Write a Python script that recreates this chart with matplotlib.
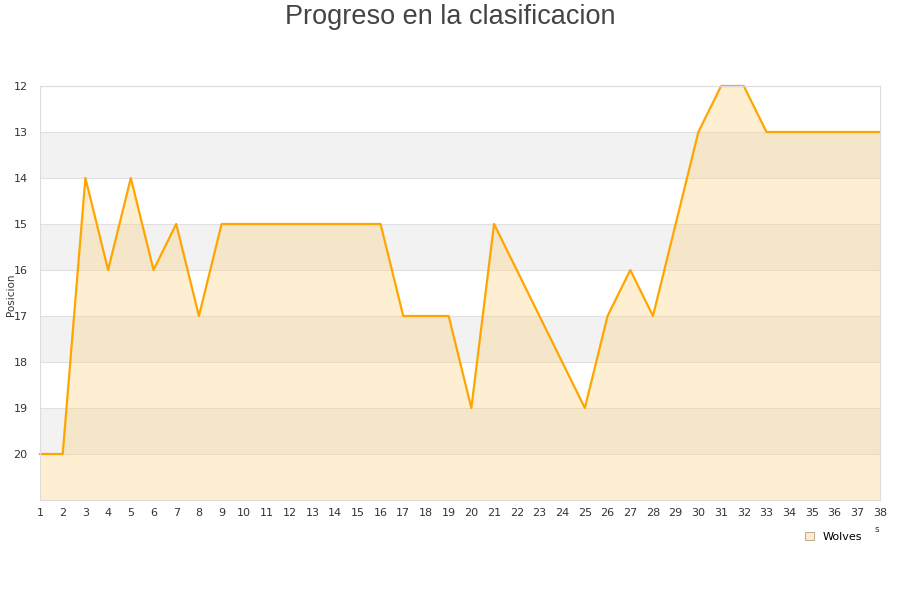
import matplotlib.pyplot as plt
from matplotlib.patches import Patch

# jornadas y posicion del equipo
jornadas = list(range(1, 39))
posiciones = [20, 20, 14, 16, 14, 16, 15, 17, 15, 15,
              15, 15, 15, 15, 15, 15, 17, 17, 17, 19,
              15, 16, 17, 18, 19, 17, 16, 17, 15, 13,
              12, 12, 13, 13, 13, 13, 13, 13]
y_ticks = list(range(12, 21))
equipo = 'Wolves'


def main():
    fig = plt.figure(figsize=(9, 6), dpi=100)
    ax = fig.add_axes([40 / 900, 100 / 600, 840 / 900, 414 / 600])

    # bandas grises alternas
    for lo in range(13, 21, 2):
        ax.axhspan(lo, lo + 1, color='#f2f2f2', zorder=0, lw=0)
    for v in range(12, 22):
        ax.axhline(v, color='#e0e0e0', lw=0.8, zorder=0.5)

    ax.fill_between(jornadas, posiciones, 21, color='#ffd27f',
                    alpha=0.35, lw=0, zorder=1)
    ax.plot(jornadas, posiciones, color='#ffa500', lw=1.6, zorder=2,
            clip_on=False)

    ax.set_xlim(1, 38)
    ax.set_ylim(21, 12)
    ax.set_yticks(y_ticks)
    ax.set_xticks(jornadas)
    ax.tick_params(length=0, labelsize=8, colors='#333333', pad=6)
    ax.tick_params(axis='y', pad=9)
    for s in ax.spines.values():
        s.set_color('#dddddd')
        s.set_linewidth(0.8)
    ax.spines['top'].set_zorder(3)
    fig.text(11 / 900, 0.508, 'Posicion', rotation=90, ha='center',
             va='center', fontsize=7.5, color='#333333')

    fig.text(0.5, 0.972, 'Progreso en la clasificacion', ha='center',
             va='center', fontsize=19.5, color='#444444',
             family='Liberation Sans')

    handle = Patch(facecolor='#ffebcc', edgecolor='#b0a080', lw=0.6)
    fig.legend([handle], [equipo], loc='center', bbox_to_anchor=(0.926, 0.105),
               frameon=False, fontsize=8, handlelength=0.8,
               handleheight=0.8, handletextpad=0.8)
    fig.text(0.972, 0.114, 's', fontsize=6.5, color='#333333')

    fig.savefig('out.png', dpi=100)


if __name__ == "__main__":
    main()
